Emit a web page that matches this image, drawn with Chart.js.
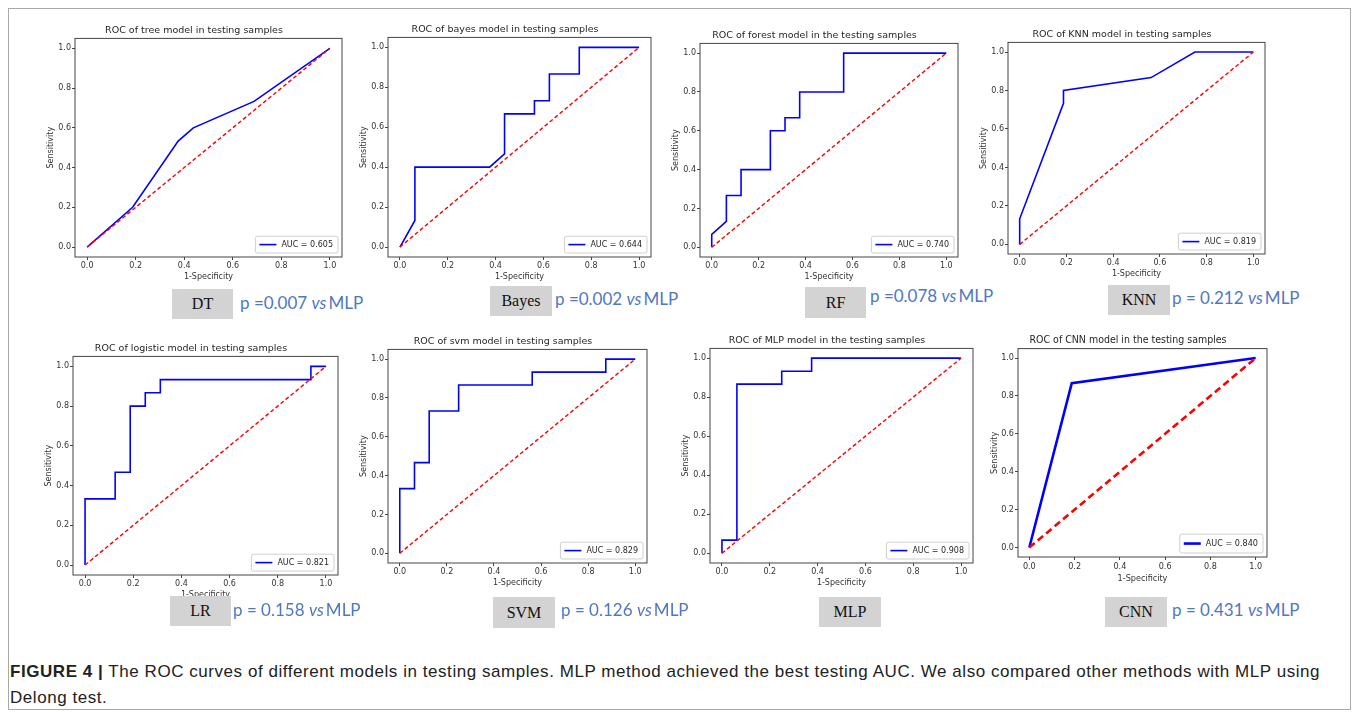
<!DOCTYPE html>
<html lang="en">
<head>
<meta charset="UTF-8">
<title>ROC curves of different models in testing samples</title>
<script src="https://cdn.jsdelivr.net/npm/chart.js"></script>
<style>
  body { margin: 0; width: 1360px; height: 714px; background: #fff; position: relative; overflow: hidden; }
  .frame { position: absolute; left: 8px; top: 8px; width: 1343px; height: 702px; border: 1px solid #a8a8a8; box-sizing: border-box; }
  canvas { position: absolute; }
  .tag { position: absolute; background: #d3d3d3; font-family: 'Liberation Serif', serif; font-size: 16px; color: #111;
         display: flex; align-items: center; justify-content: center; }
  .pval { position: absolute; color: #4f77c5; font-family: Lato, sans-serif; font-weight: 400; font-size: 17px; white-space: nowrap; transform: translateY(-50%); }
  .caption { position: absolute; left: 10px; top: 659px; font-family: 'Liberation Sans', Arial, sans-serif; font-size: 17px; letter-spacing: 0.55px; line-height: 26px; color: #222; white-space: nowrap; }
</style>
</head>
<body>
<div class="frame"></div>
<div id="page"></div>
<div class="caption"><b>FIGURE 4 |</b> The ROC curves of different models in testing samples. MLP method achieved the best testing AUC. We also compared other methods with MLP using<br>Delong test.</div>

<script>
// ---- data ----
const modelTags = ['DT', 'Bayes', 'RF', 'KNN', 'LR', 'SVM', 'MLP', 'CNN'];
const chartTitles = [
  'ROC of tree model in testing samples',
  'ROC of bayes model in testing samples',
  'ROC of forest model in the testing samples',
  'ROC of KNN model in testing samples',
  'ROC of logistic model in testing samples',
  'ROC of svm model in testing samples',
  'ROC of MLP model in the testing samples',
  'ROC of CNN model in the testing samples'
];
const aucValues = ['0.605', '0.644', '0.740', '0.819', '0.821', '0.829', '0.908', '0.840'];
const pValues = ['p =0.007', 'p =0.002', 'p =0.078', 'p = 0.212', 'p = 0.158', 'p = 0.126', '', 'p = 0.431'];

const dtFpr = [0, 0.1875, 0.375, 0.4375, 0.6875, 1];
const dtTpr = [0, 0.2, 0.533, 0.6, 0.733, 1];

const bayesFpr = [0, 0.0625, 0.0625, 0.375, 0.4375, 0.4375, 0.5625, 0.5625, 0.625, 0.625, 0.75, 0.75, 1];
const bayesTpr = [0, 0.133, 0.4, 0.4, 0.467, 0.667, 0.667, 0.733, 0.733, 0.867, 0.867, 1, 1];

const rfFpr = [0, 0, 0.0625, 0.0625, 0.125, 0.125, 0.25, 0.25, 0.3125, 0.3125, 0.375, 0.375, 0.5625, 0.5625, 1];
const rfTpr = [0, 0.067, 0.133, 0.267, 0.267, 0.4, 0.4, 0.6, 0.6, 0.667, 0.667, 0.8, 0.8, 1, 1];

const knnFpr = [0, 0, 0.1875, 0.1875, 0.5625, 0.75, 1];
const knnTpr = [0, 0.133, 0.733, 0.8, 0.867, 1, 1];

const lrFpr = [0, 0, 0.125, 0.125, 0.1875, 0.1875, 0.25, 0.25, 0.3125, 0.3125, 0.9375, 0.9375, 1];
const lrTpr = [0, 0.333, 0.333, 0.467, 0.467, 0.8, 0.8, 0.867, 0.867, 0.933, 0.933, 1, 1];

const svmFpr = [0, 0, 0.0625, 0.0625, 0.125, 0.125, 0.25, 0.25, 0.5625, 0.5625, 0.875, 0.875, 1];
const svmTpr = [0, 0.333, 0.333, 0.467, 0.467, 0.733, 0.733, 0.867, 0.867, 0.933, 0.933, 1, 1];

const mlpFpr = [0, 0, 0.0625, 0.0625, 0.25, 0.25, 0.375, 0.375, 1];
const mlpTpr = [0, 0.067, 0.067, 0.867, 0.867, 0.933, 0.933, 1, 1];

const cnnFpr = [0, 0.1875, 1];
const cnnTpr = [0, 0.867, 1];

const chanceLine = [0, 1];
const tickValues = [0, 0.2, 0.4, 0.6, 0.8, 1.0];
const tickLabels = ['0.0', '0.2', '0.4', '0.6', '0.8', '1.0'];

// ---- layout (page pixels) ----
// axes frame of each plot: left, top, right, bottom
const axesBoxes = [
  [75, 38, 342, 257], [388, 37, 651, 257], [700, 43, 958, 257], [1008, 42, 1265, 254],
  [73, 356, 338, 575], [388, 349, 647, 563], [710, 348, 973, 563], [1018, 349, 1267, 557]
];
// grey name boxes: left, top, width, height
const tagBoxes = [
  [172, 289, 61, 30], [490, 286, 62, 30], [805, 287, 61, 31], [1108, 285, 62, 30],
  [170, 596, 61, 30], [493, 597, 62, 31], [819, 597, 62, 30], [1105, 597, 62, 30]
];
// p value text: left, vertical centre
const pPos = [
  [240, 302], [555, 298], [870, 295], [1172, 297],
  [233, 609], [561, 609], [0, 0], [1172, 609]
];

const curves = [
  [dtFpr, dtTpr], [bayesFpr, bayesTpr], [rfFpr, rfTpr], [knnFpr, knnTpr],
  [lrFpr, lrTpr], [svmFpr, svmTpr], [mlpFpr, mlpTpr], [cnnFpr, cnnTpr]
];

// frame round the axes
const axesFrame = {
  id: 'axesFrame',
  afterDraw(chart) {
    const { ctx, chartArea: a } = chart;
    ctx.save();
    ctx.strokeStyle = '#444';
    ctx.lineWidth = 1;
    ctx.strokeRect(a.left, a.top, a.width, a.height);
    ctx.restore();
  }
};

// matplotlib-like legend in the lower right corner
const aucLegend = {
  id: 'aucLegend',
  afterDatasetsDraw(chart, args, opts) {
    const { ctx, chartArea: a } = chart;
    ctx.save();
    ctx.font = opts.size + 'px ' + opts.family;
    const tw = ctx.measureText(opts.text).width;
    const w = 4 + opts.lineLen + 5 + tw + 5, h = opts.size * 2.1;
    const x = a.right - 4 - w, y = a.bottom - 4 - h;
    ctx.fillStyle = 'rgba(255,255,255,0.85)';
    ctx.strokeStyle = '#cfcfcf';
    ctx.lineWidth = 1;
    ctx.beginPath();
    ctx.roundRect(x, y, w, h, 2);
    ctx.fill();
    ctx.stroke();
    ctx.strokeStyle = '#0000ff';
    ctx.lineWidth = opts.lineWidth;
    ctx.beginPath();
    ctx.moveTo(x + 4, y + h / 2);
    ctx.lineTo(x + 4 + opts.lineLen, y + h / 2);
    ctx.stroke();
    ctx.fillStyle = '#262626';
    ctx.textBaseline = 'middle';
    ctx.fillText(opts.text, x + 4 + opts.lineLen + 5, y + h / 2 + 0.5);
    ctx.restore();
  }
};

const page = document.getElementById('page');

function drawRoc(i) {
  const [l, t, r, b] = axesBoxes[i];
  const cnn = i === 7;
  const family = cnn ? "'DejaVu Sans Condensed', 'Liberation Sans Narrow', 'DejaVu Sans'" : "'DejaVu Sans'";
  const titleSize = cnn ? 10.5 : 9.5;
  const tickSize = cnn ? 9 : 8;
  const blueWidth = cnn ? 2.6 : 1.6;
  const redWidth = cnn ? 2.6 : 1.4;
  const yW = 29, xH = cnn ? 27 : 25, padR = 6;
  const titleH = 4 + titleSize * 1.2 + 2;

  const cv = document.createElement('canvas');
  cv.width = r - l + yW + padR;
  cv.height = Math.round(b - t + titleH + xH);
  cv.style.left = (l - yW) + 'px';
  cv.style.top = (t - titleH) + 'px';
  page.appendChild(cv);

  const [fpr, tpr] = curves[i];
  const axisFont = { family: family, size: tickSize };

  const scale = (isX) => ({
    type: 'linear',
    min: -0.05, max: 1.05,
    afterBuildTicks: s => { s.ticks = tickValues.map(v => ({ value: v })); },
    afterFit: s => { if (isX) s.height = xH; else s.width = yW; },
    ticks: { callback: (v, k) => tickLabels[k], color: '#333', font: axisFont, padding: 1, maxRotation: 0, autoSkip: false },
    grid: { drawOnChartArea: false, drawTicks: true, tickLength: 3, color: '#444' },
    border: { display: false },
    title: { display: true, text: isX ? '1-Specificity' : 'Sensitivity', color: '#333', font: axisFont, padding: 0 }
  });

  new Chart(cv.getContext('2d'), {
    type: 'line',
    data: {
      datasets: [
        {
          data: fpr.map((x, k) => ({ x: x, y: tpr[k] })),
          borderColor: '#0000ff',
          borderWidth: blueWidth,
          pointRadius: 0,
          tension: 0,
          order: 1
        },
        {
          data: chanceLine.map(v => ({ x: v, y: v })),
          borderColor: '#ff0000',
          borderWidth: redWidth,
          borderDash: cnn ? [7, 4] : [4, 2.5],
          pointRadius: 0,
          order: 0
        }
      ]
    },
    options: {
      responsive: false,
      animation: false,
      devicePixelRatio: 1,
      layout: { padding: { left: 0, right: padR, top: 0, bottom: 0 } },
      plugins: {
        legend: { display: false },
        tooltip: { enabled: false },
        title: {
          display: true, text: chartTitles[i], color: '#262626',
          font: { family: family, size: titleSize, weight: 'normal' },
          padding: { top: 4, bottom: 2 }
        },
        aucLegend: { text: 'AUC = ' + aucValues[i], family: family, size: tickSize, lineLen: 17, lineWidth: blueWidth }
      },
      scales: { x: scale(true), y: scale(false) }
    },
    plugins: [axesFrame, aucLegend]
  });

  const [tl, tt, tw, th] = tagBoxes[i];
  const tag = document.createElement('div');
  tag.className = 'tag';
  tag.style.cssText = `left:${tl}px;top:${tt}px;width:${tw}px;height:${th}px`;
  tag.textContent = modelTags[i];
  page.appendChild(tag);

  if (pValues[i]) {
    const p = document.createElement('div');
    p.className = 'pval';
    p.style.left = pPos[i][0] + 'px';
    p.style.top = pPos[i][1] + 'px';
    p.innerHTML = pValues[i] + ' <i>vs</i>&thinsp;MLP';
    page.appendChild(p);
  }
}

for (let i = 0; i < modelTags.length; i++) drawRoc(i);
</script>
</body>
</html>
